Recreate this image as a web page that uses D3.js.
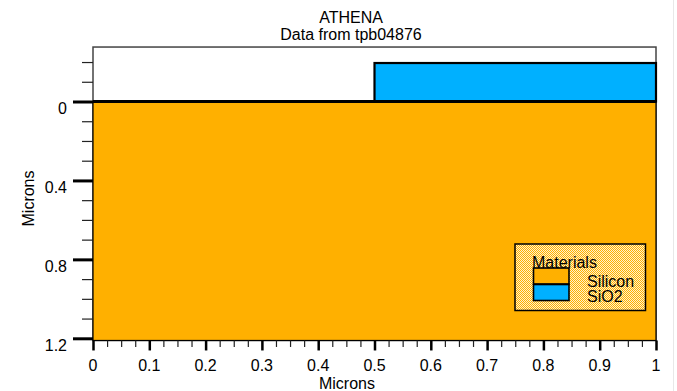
<!DOCTYPE html>
<html>
<head>
<meta charset="utf-8">
<script src="https://cdn.jsdelivr.net/npm/d3@7"></script>
<style>
  html, body { margin: 0; padding: 0; background: #ffffff; }
  svg { display: block; }
  text { font-family: "Liberation Sans", Arial, sans-serif; font-size: 16px; fill: #000; }
</style>
</head>
<body>
<svg id="chart" width="677" height="391"></svg>
<script>
// ---- data ----
const titleLines = ["ATHENA", "Data from tpb04876"];
const materials = ["Silicon", "SiO2"];
const materialColors = ["#ffb000", "#00b0ff"];
// material regions (microns): x extent and depth extent (negative = above surface)
const regionX0 = [0, 0.5];
const regionX1 = [1, 1];
const regionTop = [0, -0.195];
const regionBottom = [1.211, 0];
const xMajorTicks = [0, 0.1, 0.2, 0.3, 0.4, 0.5, 0.6, 0.7, 0.8, 0.9, 1];
const xTickLabels = ["0", "0.1", "0.2", "0.3", "0.4", "0.5", "0.6", "0.7", "0.8", "0.9", "1"];
const xMinorTicks = [0.025, 0.05, 0.075, 0.125, 0.15, 0.175, 0.225, 0.25, 0.275, 0.325, 0.35, 0.375,
  0.425, 0.45, 0.475, 0.525, 0.55, 0.575, 0.625, 0.65, 0.675, 0.725, 0.75, 0.775,
  0.825, 0.85, 0.875, 0.925, 0.95, 0.975];
const yMajorTicks = [0, 0.4, 0.8, 1.2];
const yTickLabels = ["0", "0.4", "0.8", "1.2"];
const yMinorTicks = [-0.2, -0.1, 0.1, 0.2, 0.3, 0.5, 0.6, 0.7, 0.9, 1.0, 1.1];
const yDomainTop = -0.276;
const yDomainBottom = 1.211;
const axisTitle = "Microns";
const legendTitle = "Materials";

// ---- scales ----
const x = d3.scaleLinear().domain([0, 1]).range([93, 656]);
const y = d3.scaleLinear().domain([0, 1.2]).range([101.5, 338.3]);

const svg = d3.select("#chart");

// faint window edge on the right
svg.append("rect").attr("x", 673).attr("y", 0).attr("width", 1).attr("height", 391).attr("fill", "#e8e8e8");

// legend dither pattern
const defs = svg.append("defs");
const pat = defs.append("pattern").attr("id", "dither").attr("patternUnits", "userSpaceOnUse")
  .attr("width", 2).attr("height", 2);
pat.append("rect").attr("width", 2).attr("height", 2).attr("fill", "#fff2cc");
pat.append("rect").attr("x", 0).attr("y", 0).attr("width", 1).attr("height", 1).attr("fill", materialColors[0]);
pat.append("rect").attr("x", 1).attr("y", 1).attr("width", 1).attr("height", 1).attr("fill", materialColors[0]);

// titles
svg.selectAll("text.title").data(titleLines).join("text")
  .attr("class", "title")
  .attr("x", 351)
  .attr("y", (d, i) => 23 + i * 17)
  .attr("text-anchor", "middle")
  .text(d => d);

// plot frame
svg.append("rect")
  .attr("x", x(0)).attr("y", y(yDomainTop))
  .attr("width", x(1) - x(0)).attr("height", y(yDomainBottom) - y(yDomainTop))
  .attr("fill", "#ffffff").attr("stroke", "#444").attr("stroke-width", 1.5);

// material regions
const regions = materials.map((m, i) => ({
  name: m, color: materialColors[i],
  x0: regionX0[i], x1: regionX1[i], top: regionTop[i], bottom: regionBottom[i]
}));
svg.selectAll("rect.region").data(regions).join("rect")
  .attr("class", "region")
  .attr("x", d => x(d.x0))
  .attr("y", d => y(d.top))
  .attr("width", d => x(d.x1) - x(d.x0))
  .attr("height", d => y(d.bottom) - y(d.top))
  .attr("fill", d => d.color)
  .attr("stroke", "#000")
  .attr("stroke-width", (d, i) => i === 0 ? 1.2 : 2.2);

// silicon surface line
svg.append("line")
  .attr("x1", x(0)).attr("x2", x(1)).attr("y1", y(0)).attr("y2", y(0))
  .attr("stroke", "#000").attr("stroke-width", 3);

// y axis (major + minor)
const yMajor = svg.append("g").attr("transform", `translate(${x(0)},0)`)
  .call(d3.axisLeft(y).tickValues(yMajorTicks).tickSize(20).tickFormat(""));
yMajor.select(".domain").remove();
yMajor.selectAll(".tick line").attr("stroke", "#000").attr("stroke-width", 3);

const yMinor = svg.append("g").attr("transform", `translate(${x(0)},0)`)
  .call(d3.axisLeft(y).tickValues(yMinorTicks).tickSize(11).tickFormat(""));
yMinor.select(".domain").remove();
yMinor.selectAll(".tick line").attr("stroke", "#222").attr("stroke-width", 1.2);

svg.selectAll("text.ylab").data(yMajorTicks).join("text")
  .attr("class", "ylab")
  .attr("x", 67)
  .attr("y", d => y(d) + 12.5)
  .attr("text-anchor", "end")
  .text((d, i) => yTickLabels[i]);

// x axis (major + minor)
const xBase = y(yDomainBottom);
const xMinor = svg.append("g").attr("transform", `translate(0,${xBase})`)
  .call(d3.axisBottom(x).tickValues(xMinorTicks).tickSize(6.5).tickFormat(""));
xMinor.select(".domain").remove();
xMinor.selectAll(".tick line").attr("stroke", "#222").attr("stroke-width", 1.2);

const xMajor = svg.append("g").attr("transform", `translate(0,${xBase})`)
  .call(d3.axisBottom(x).tickValues(xMajorTicks).tickSize(10).tickFormat(""));
xMajor.select(".domain").remove();
xMajor.selectAll(".tick line").attr("stroke", "#000").attr("stroke-width", 2.5);

svg.selectAll("text.xlab").data(xMajorTicks).join("text")
  .attr("class", "xlab")
  .attr("x", d => x(d))
  .attr("y", 370.5)
  .attr("text-anchor", "middle")
  .text((d, i) => xTickLabels[i]);

// axis titles
svg.append("text").attr("x", 347).attr("y", 388.5).attr("text-anchor", "middle").text(axisTitle);
svg.append("text").attr("transform", "translate(34,198.5) rotate(-90)")
  .attr("text-anchor", "middle").text(axisTitle);

// legend
const lg = svg.append("g");
lg.append("rect").attr("x", 515).attr("y", 244).attr("width", 130.5).attr("height", 66.5)
  .attr("fill", "url(#dither)").attr("stroke", "#000").attr("stroke-width", 1.5);
lg.append("text").attr("x", 532).attr("y", 268).text(legendTitle);
lg.selectAll("rect.sw").data(regions).join("rect")
  .attr("class", "sw")
  .attr("x", 533.5).attr("y", (d, i) => 268 + i * 16.5)
  .attr("width", 35.5).attr("height", 16)
  .attr("fill", d => d.color).attr("stroke", "#000").attr("stroke-width", 1.6);
lg.selectAll("text.lt").data(regions).join("text")
  .attr("class", "lt")
  .attr("x", 587).attr("y", (d, i) => 286.5 + i * 15)
  .text(d => d.name);
</script>
</body>
</html>
